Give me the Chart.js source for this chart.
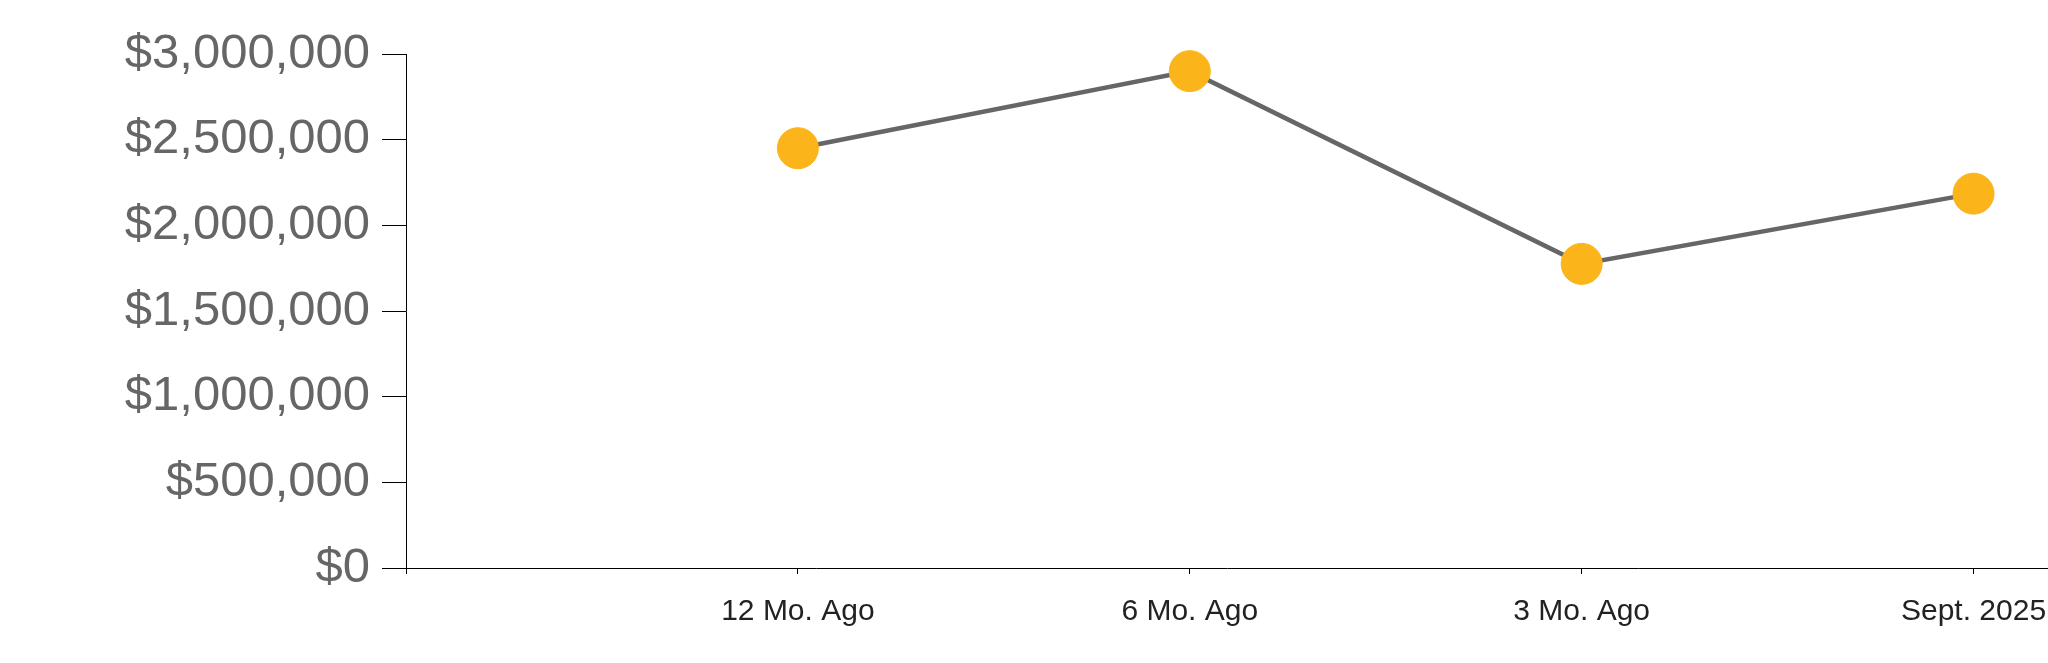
<!DOCTYPE html>
<html>
<head>
<meta charset="utf-8">
<script src="https://cdn.jsdelivr.net/npm/chart.js@4/dist/chart.umd.min.js"></script>
<style>
  html, body { margin: 0; padding: 0; background: #fff; }
  #wrap { width: 2048px; height: 663px; }
</style>
</head>
<body>
<div id="wrap"><canvas id="grafico" width="2048" height="663"></canvas></div>
<script>
/* dados */
var periodos = ["12 Mo. Ago", "6 Mo. Ago", "3 Mo. Ago", "Sept. 2025"];
var posicoes = [1, 2, 3, 4];
var valores  = [2450000, 2900000, 1775000, 2185000];
var yTicks   = [0, 500000, 1000000, 1500000, 2000000, 2500000, 3000000];

var pontos = posicoes.map(function (p, i) { return { x: p, y: valores[i] }; });

var fonte = "'Liberation Sans', Arial, sans-serif";

new Chart(document.getElementById("grafico"), {
  type: "line",
  data: {
    datasets: [{
      data: pontos,
      borderColor: "#666666",
      borderWidth: 4.5,
      tension: 0,
      pointRadius: 20.5,
      pointHoverRadius: 20.5,
      pointBackgroundColor: "#FBB41A",
      pointBorderColor: "#FBB41A",
      pointBorderWidth: 1,
      clip: false
    }]
  },
  options: {
    responsive: false,
    animation: false,
    events: [],
    layout: { autoPadding: false, padding: { top: 54, right: 0, left: 0, bottom: 0 } },
    plugins: { legend: { display: false }, tooltip: { enabled: false } },
    scales: {
      x: {
        type: "linear",
        min: 0,
        max: 4.19,
        afterBuildTicks: function (s) {
          s.ticks = [0].concat(posicoes).map(function (v) { return { value: v }; });
        },
        afterFit: function (s) {
          s.height = 95;
          s.paddingLeft = 0;
          s.paddingRight = 0;
        },
        border: { color: "#000", width: 1 },
        grid: { drawOnChartArea: false, tickLength: 6, color: "#000" },
        ticks: {
          color: "#222",
          font: { family: fonte, size: 30 },
          padding: 20,
          maxRotation: 0,
          autoSkip: false,
          callback: function (v) {
            var i = posicoes.indexOf(v);
            return i >= 0 ? periodos[i] : "";
          }
        }
      },
      y: {
        min: 0,
        max: 3000000,
        afterBuildTicks: function (s) {
          s.ticks = yTicks.map(function (v) { return { value: v }; });
        },
        afterFit: function (s) { s.width = 406; },
        border: { color: "#000", width: 1 },
        grid: { drawOnChartArea: false, tickLength: 24, color: "#000" },
        ticks: {
          color: "#666666",
          font: { family: fonte, size: 49 },
          padding: 12,
          callback: function (v) { return "$" + v.toLocaleString("en-US"); }
        }
      }
    }
  }
});
</script>
</body>
</html>
